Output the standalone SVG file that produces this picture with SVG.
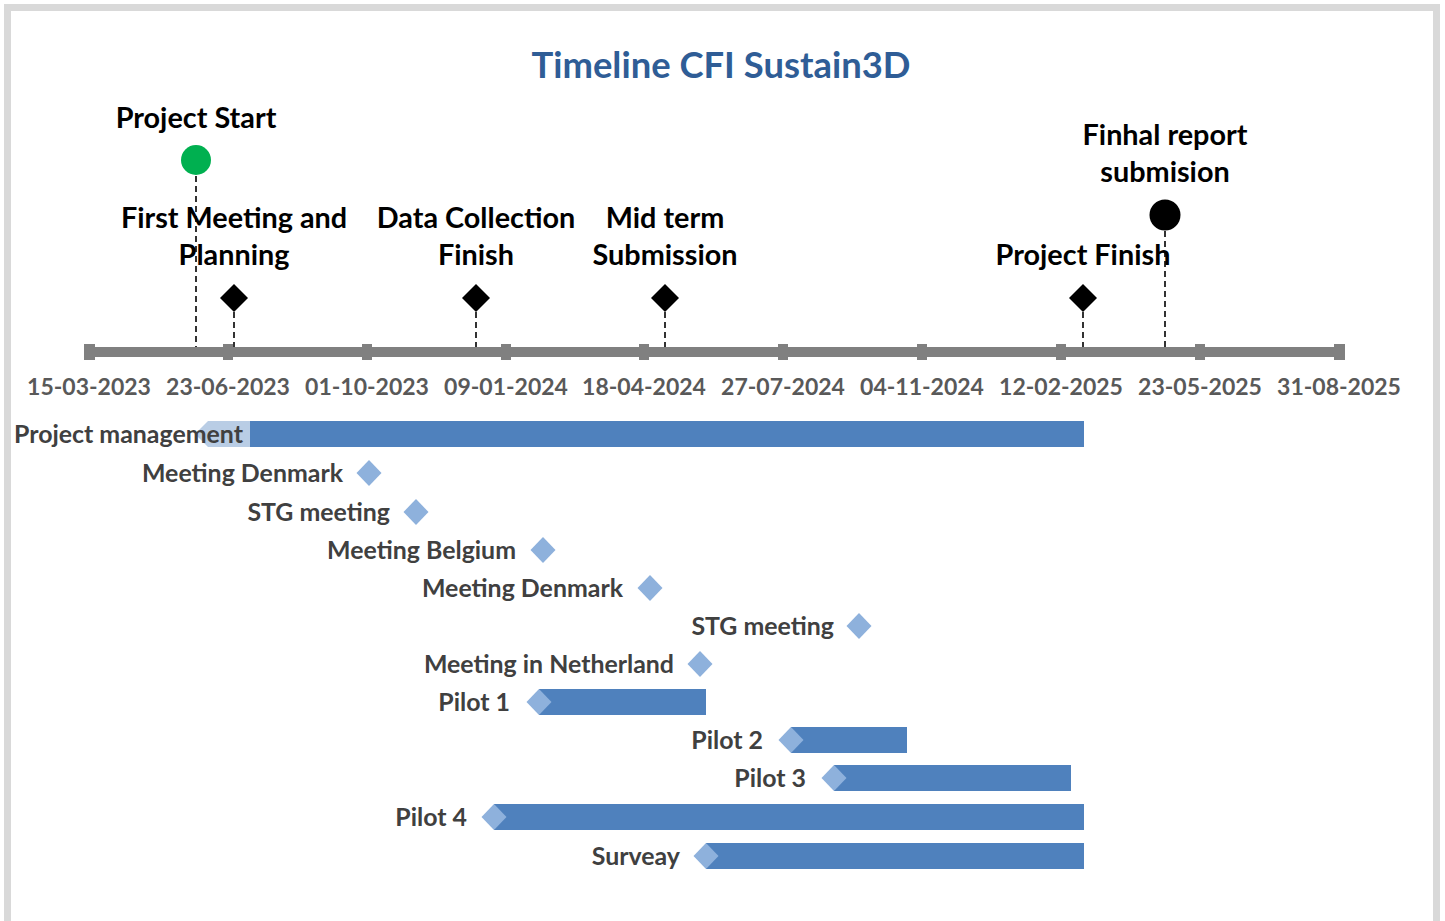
<svg xmlns="http://www.w3.org/2000/svg" width="1445" height="921" viewBox="0 0 1445 921">
<style>
.frame{fill:#fff;stroke:#d9d9d9;stroke-width:7}
.title{font-family:Lato,"Liberation Sans",sans-serif;font-weight:bold;font-size:36.4px;fill:#2F5D96}
.ms{font-family:Lato,"Liberation Sans",sans-serif;font-weight:bold;font-size:28.8px;fill:#000}
.date{font-family:Lato,"Liberation Sans",sans-serif;font-weight:bold;font-size:23px;fill:#595959}
.lbl{font-family:Lato,"Liberation Sans",sans-serif;font-weight:bold;font-size:24.9px;fill:#404040}
.dash{stroke:#000;stroke-width:1.6;stroke-dasharray:6 4;fill:none}
.bar{fill:#4F81BD}
.dia{fill:#8EB1DC}
.tick{fill:#808080}
</style>
<defs>
<polygon id="bdia" points="0,-14 14,0 0,14 -14,0" fill="#000"/>
<polygon id="ldia" points="0,-13 12.5,0 0,13 -12.5,0" class="dia"/>
</defs>
<rect x="7.5" y="7.5" width="1429" height="930" class="frame"/>
<text class="title" x="721" y="78" text-anchor="middle">Timeline CFI Sustain3D</text>

<g id="connectors">
<line class="dash" x1="196" y1="176" x2="196" y2="350"/>
<line class="dash" x1="234" y1="312" x2="234" y2="350"/>
<line class="dash" x1="476" y1="312" x2="476" y2="350"/>
<line class="dash" x1="665" y1="312" x2="665" y2="350"/>
<line class="dash" x1="1083" y1="312" x2="1083" y2="350"/>
<line class="dash" x1="1165" y1="231" x2="1165" y2="350"/>
</g>

<g id="axis">
<rect x="84" y="347" width="1261" height="10" class="tick"/>
<rect x="84" y="344" width="11" height="16" class="tick"/>
<rect x="223" y="344" width="10" height="16" class="tick"/>
<rect x="362" y="344" width="10" height="16" class="tick"/>
<rect x="501" y="344" width="10" height="16" class="tick"/>
<rect x="639" y="344" width="10" height="16" class="tick"/>
<rect x="778" y="344" width="10" height="16" class="tick"/>
<rect x="917" y="344" width="10" height="16" class="tick"/>
<rect x="1056" y="344" width="10" height="16" class="tick"/>
<rect x="1195" y="344" width="10" height="16" class="tick"/>
<rect x="1334" y="344" width="11" height="16" class="tick"/>
<text class="date" x="89" y="395" text-anchor="middle">15-03-2023</text>
<text class="date" x="228" y="395" text-anchor="middle">23-06-2023</text>
<text class="date" x="367" y="395" text-anchor="middle">01-10-2023</text>
<text class="date" x="506" y="395" text-anchor="middle">09-01-2024</text>
<text class="date" x="644" y="395" text-anchor="middle">18-04-2024</text>
<text class="date" x="783" y="395" text-anchor="middle">27-07-2024</text>
<text class="date" x="922" y="395" text-anchor="middle">04-11-2024</text>
<text class="date" x="1061" y="395" text-anchor="middle">12-02-2025</text>
<text class="date" x="1200" y="395" text-anchor="middle">23-05-2025</text>
<text class="date" x="1339" y="395" text-anchor="middle">31-08-2025</text>
</g>

<g id="project-start">
<circle cx="196" cy="160" r="15" fill="#00B050"/>
<text class="ms" x="196" y="128" text-anchor="middle">Project Start</text>
</g>
<g id="first-meeting">
<use href="#bdia" x="234" y="298"/>
<text class="ms" x="234" y="228" text-anchor="middle">First Meeting and</text>
<text class="ms" x="234" y="265" text-anchor="middle">Planning</text>
</g>
<g id="data-collection">
<use href="#bdia" x="476" y="298"/>
<text class="ms" x="476" y="228" text-anchor="middle">Data Collection</text>
<text class="ms" x="476" y="265" text-anchor="middle">Finish</text>
</g>
<g id="mid-term">
<use href="#bdia" x="665" y="298"/>
<text class="ms" x="665" y="228" text-anchor="middle">Mid term</text>
<text class="ms" x="665" y="265" text-anchor="middle">Submission</text>
</g>
<g id="project-finish">
<use href="#bdia" x="1083" y="298"/>
<text class="ms" x="1083" y="265" text-anchor="middle">Project Finish</text>
</g>
<g id="final-report">
<circle cx="1165" cy="215" r="15.5" fill="#000"/>
<text class="ms" x="1165" y="145" text-anchor="middle">Finhal report</text>
<text class="ms" x="1165" y="182" text-anchor="middle">submision</text>
</g>

<g id="task-project-management">
<polygon points="195,434 208,421 250,421 250,447 208,447" fill="#B9CDE5"/>
<rect x="250" y="421" width="834" height="26" class="bar"/>
<text class="lbl" x="14" y="443">Project management</text>
</g>
<g id="task-meeting-denmark-1">
<use href="#ldia" x="369" y="473"/>
<text class="lbl" x="343" y="482" text-anchor="end">Meeting Denmark</text>
</g>
<g id="task-stg-meeting-1">
<use href="#ldia" x="416" y="512"/>
<text class="lbl" x="390" y="521" text-anchor="end">STG meeting</text>
</g>
<g id="task-meeting-belgium">
<use href="#ldia" x="543" y="550"/>
<text class="lbl" x="516" y="559" text-anchor="end">Meeting Belgium</text>
</g>
<g id="task-meeting-denmark-2">
<use href="#ldia" x="650" y="588"/>
<text class="lbl" x="623" y="597" text-anchor="end">Meeting Denmark</text>
</g>
<g id="task-stg-meeting-2">
<use href="#ldia" x="859" y="626"/>
<text class="lbl" x="834" y="635" text-anchor="end">STG meeting</text>
</g>
<g id="task-meeting-netherland">
<use href="#ldia" x="700" y="664"/>
<text class="lbl" x="674" y="673" text-anchor="end">Meeting in Netherland</text>
</g>
<g id="task-pilot-1">
<rect x="539" y="689" width="167" height="26" class="bar"/>
<use href="#ldia" x="539" y="702"/>
<text class="lbl" x="510" y="711" text-anchor="end">Pilot 1</text>
</g>
<g id="task-pilot-2">
<rect x="791" y="727" width="116" height="26" class="bar"/>
<use href="#ldia" x="791" y="740"/>
<text class="lbl" x="763" y="749" text-anchor="end">Pilot 2</text>
</g>
<g id="task-pilot-3">
<rect x="834" y="765" width="237" height="26" class="bar"/>
<use href="#ldia" x="834" y="778"/>
<text class="lbl" x="806" y="787" text-anchor="end">Pilot 3</text>
</g>
<g id="task-pilot-4">
<rect x="494" y="804" width="590" height="26" class="bar"/>
<use href="#ldia" x="494" y="817"/>
<text class="lbl" x="467" y="826" text-anchor="end">Pilot 4</text>
</g>
<g id="task-surveay">
<rect x="706" y="843" width="378" height="26" class="bar"/>
<use href="#ldia" x="706" y="856"/>
<text class="lbl" x="680" y="865" text-anchor="end">Surveay</text>
</g>
</svg>
